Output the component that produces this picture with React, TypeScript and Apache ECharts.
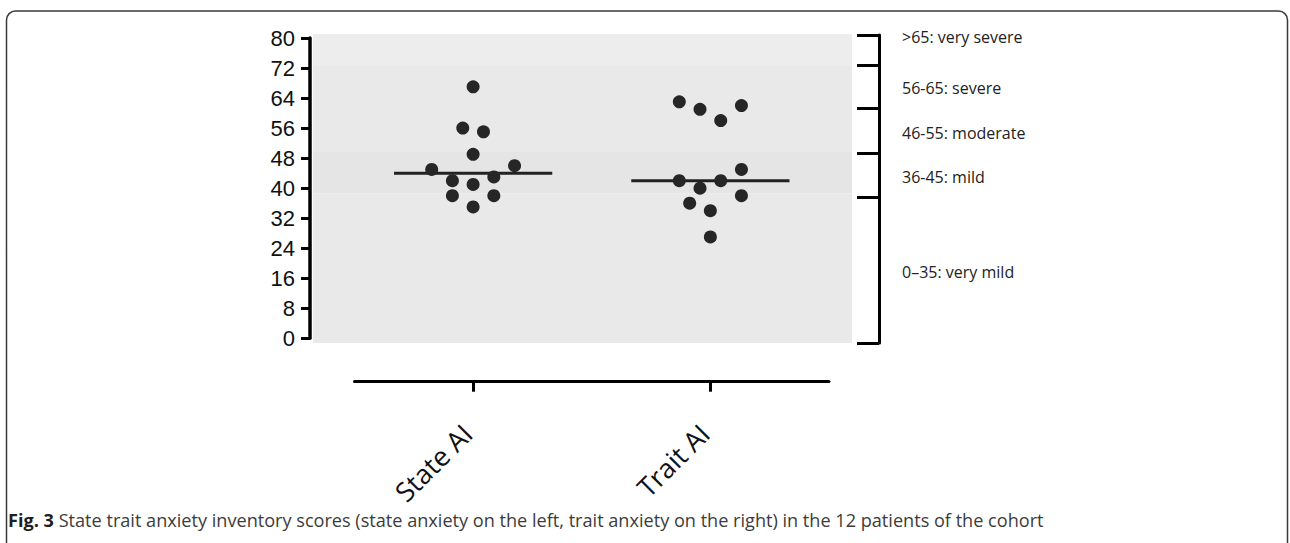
import React, { useEffect, useRef } from "react";
import * as echarts from "echarts";

// ---- data ----
const categories = ["State AI", "Trait AI"];
const stateValues = [67, 56, 55, 49, 45, 46, 43, 42, 41, 38, 38, 35];
const stateSlots = [0, -1, 1, 0, -4, 4, 2, -2, 0, -2, 2, 0];
const traitValues = [63, 61, 58, 62, 45, 42, 42, 40, 38, 36, 34, 27];
const traitSlots = [-3, -1, 1, 3, 3, -3, 1, -1, 3, -2, 0, 0];
const medians = [44, 42];
const yMin = 0;
const yMax = 80;
const yInterval = 8;
const severityLabels = [
  ">65: very severe",
  "56-65: severe",
  "46-55: moderate",
  "36-45: mild",
  "0\u201335: very mild",
];
const severityLabelAt = [80.3, 66.7, 54.7, 43.0, 17.7];
const bracketBounds = [80.8, 72.8, 61.3, 49.3, 37.6, -1.2];
const bandEdges = [80.8, 72.5, 49.5, 38.5, -1.2];
const bandColors = ["#ededed", "#e9e9e9", "#e5e5e5", "#e9e9e9"];
const captionBold = "Fig. 3";
const captionText =
  " State trait anxiety inventory scores (state anxiety on the left, trait anxiety on the right) in the 12 patients of the cohort";

// ---- layout / style constants ----
const CAT_POS = [1, 3];
const SLOT = 0.0873;
const MEDIAN_HALF = 0.667;
const DOT = "#262626";

function buildOption() {
  const groups = [
    { values: stateValues, slots: stateSlots },
    { values: traitValues, slots: traitSlots },
  ];
  const scatterData: number[][] = [];
  groups.forEach((g, gi) => {
    g.values.forEach((v, i) => {
      scatterData.push([CAT_POS[gi] + g.slots[i] * SLOT, v]);
    });
  });

  const medianSeries = medians.map((m, gi) => ({
    type: "line",
    xAxisIndex: 0,
    yAxisIndex: 0,
    data: [
      [CAT_POS[gi] - MEDIAN_HALF, m],
      [CAT_POS[gi] + MEDIAN_HALF, m],
    ],
    symbol: "none",
    lineStyle: { color: "#222", width: 3 },
    z: 3,
    silent: true,
  }));

  const bands = bandColors.map((c, i) => [
    { yAxis: bandEdges[i], itemStyle: { color: c } },
    { yAxis: bandEdges[i + 1] },
  ]);

  const captionFont = "'Open Sans', sans-serif";

  return {
    animation: false,
    backgroundColor: "#ffffff",
    graphic: [
      {
        type: "rect",
        shape: { x: 6.5, y: 11, width: 1281, height: 620, r: 9 },
        style: { fill: "none", stroke: "#3a3a3a", lineWidth: 1.5 },
        z: -10,
        silent: true,
      },
      {
        type: "text",
        x: 8,
        y: 519,
        scaleX: 0.98,
        silent: true,
        style: {
          text: `{b|${captionBold}}{r|${captionText}}`,
          verticalAlign: "middle",
          rich: {
            b: {
              fontFamily: captionFont,
              fontWeight: "bold",
              fontSize: 18.5,
              fill: "#1e1e1e",
            },
            r: {
              fontFamily: captionFont,
              fontWeight: "normal",
              fontSize: 18.5,
              fill: "#3c3c3c",
            },
          },
        },
      },
    ],
    grid: [
      { left: 354.5, width: 474.5, top: 38, height: 300.3 },
      { left: 313, width: 539, top: 34, height: 309, show: false },
      { left: 857, width: 22, top: 35, height: 308 },
    ],
    xAxis: [
      {
        type: "value",
        gridIndex: 0,
        min: 0,
        max: 4,
        show: false,
        axisLine: { onZero: false },
      },
      {
        type: "category",
        gridIndex: 0,
        data: categories,
        position: "bottom",
        offset: 43.4,
        boundaryGap: true,
        z: 5,
        axisLine: { show: true, onZero: false, lineStyle: { color: "#000", width: 3 } },
        axisTick: {
          show: true,
          alignWithLabel: true,
          length: 10,
          lineStyle: { color: "#000", width: 3 },
        },
        axisLabel: {
          rotate: 45,
          margin: 41,
          padding: [0, 8.5, 0, 0],
          fontSize: 27,
          fontFamily: "'Open Sans', sans-serif",
          color: "#111",
        },
        splitLine: { show: false },
      },
      {
        type: "value",
        gridIndex: 1,
        min: 0,
        max: 1,
        show: false,
        axisLine: { onZero: false },
      },
      {
        type: "value",
        gridIndex: 2,
        min: 0,
        max: 1,
        show: false,
        axisLine: { onZero: false },
      },
    ],
    yAxis: [
      {
        type: "value",
        gridIndex: 0,
        min: yMin,
        max: yMax,
        interval: yInterval,
        offset: 44.5,
        z: 5,
        axisLine: { show: true, onZero: false, lineStyle: { color: "#000", width: 3.5 } },
        axisTick: { show: true, length: 9, lineStyle: { color: "#000", width: 3 } },
        axisLabel: {
          fontSize: 22,
          margin: 15,
          fontFamily: "'Liberation Sans', Arial, sans-serif",
          color: "#111",
        },
        splitLine: { show: false },
      },
      {
        type: "value",
        gridIndex: 1,
        min: bandEdges[bandEdges.length - 1],
        max: bandEdges[0],
        show: false,
        axisLine: { onZero: false },
      },
      {
        type: "value",
        gridIndex: 2,
        position: "right",
        min: bracketBounds[bracketBounds.length - 1],
        max: bracketBounds[0],
        z: 5,
        axisLine: { show: true, onZero: false, lineStyle: { color: "#000", width: 3 } },
        axisTick: {
          show: true,
          inside: true,
          length: 22,
          customValues: bracketBounds,
          lineStyle: { color: "#000", width: 3 },
        },
        axisLabel: {
          show: true,
          inside: false,
          margin: 23,
          customValues: severityLabelAt,
          fontSize: 16,
          fontFamily: "'Open Sans', sans-serif",
          color: "#222",
          formatter: (v: number) => {
            const i = severityLabelAt.findIndex((p) => Math.abs(p - v) < 0.01);
            return i >= 0 ? severityLabels[i] : "";
          },
        },
        splitLine: { show: false },
      },
    ],
    series: [
      {
        type: "line",
        xAxisIndex: 2,
        yAxisIndex: 1,
        data: [],
        silent: true,
        z: -1,
        markArea: { silent: true, z: -1, data: bands },
      },
      ...medianSeries,
      {
        type: "scatter",
        xAxisIndex: 0,
        yAxisIndex: 0,
        data: scatterData,
        symbolSize: 13,
        itemStyle: { color: DOT, opacity: 1 },
        z: 6,
      },
    ],
  };
}

export default function App() {
  const ref = useRef<HTMLDivElement>(null);
  useEffect(() => {
    if (!ref.current) return;
    const chart = echarts.init(ref.current, undefined, { renderer: "svg" });
    chart.setOption(buildOption() as any);
    return () => chart.dispose();
  }, []);
  return (
    <div
      ref={ref}
      style={{ position: "fixed", left: 0, top: 0, width: 1290, height: 543 }}
    />
  );
}
